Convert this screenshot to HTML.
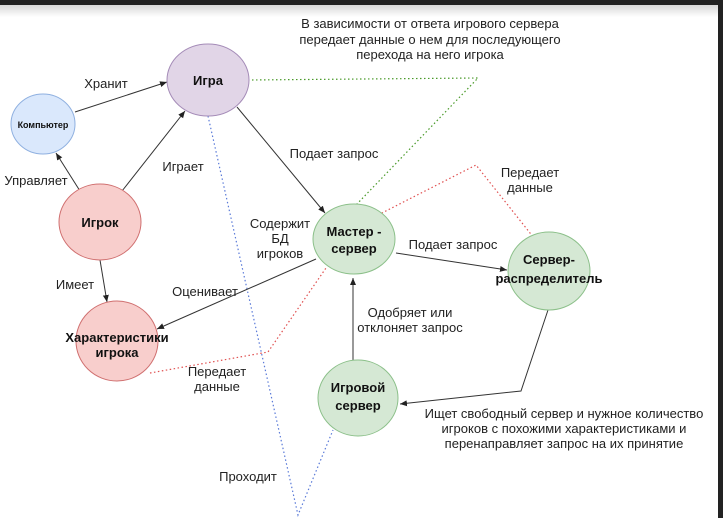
<!DOCTYPE html>
<html><head><meta charset="utf-8"><style>
body{margin:0;width:723px;height:518px;overflow:hidden;background:#fff;font-family:"Liberation Sans","Noto Sans CJK SC",sans-serif}
svg{display:block}
text{font-family:"Liberation Sans","Noto Sans CJK SC",sans-serif;font-size:13px;fill:#222}
.b{font-weight:bold;fill:#111;font-size:13px}
</style></head><body>
<svg width="723" height="518">
<defs>
<linearGradient id="g" x1="0" y1="0" x2="0" y2="1"><stop offset="0" stop-color="#d8d8d8"/><stop offset="1" stop-color="#fff"/></linearGradient>
<marker id="a" markerWidth="8" markerHeight="8" refX="7" refY="4" orient="auto" markerUnits="userSpaceOnUse"><path d="M0,1 L7,4 L0,7 Z" fill="#222"/></marker>
</defs>
<rect x="0" y="5" width="723" height="12" fill="url(#g)"/>
<rect x="0" y="0" width="723" height="5" fill="#222"/>
<rect x="718" y="0" width="5" height="518" fill="#222"/>

<g fill="none" stroke-width="1.2" stroke-dasharray="1.5 2.5">
<polyline points="248,80 478,78 356,205" stroke="#4a9a2a"/>
<polyline points="378,215 476,165 534,238" stroke="#e05050"/>
<polyline points="150,373 268,352 326,268" stroke="#e05050"/>
<polyline points="208,116 298,515 333,430" stroke="#5a7ad8"/>
</g>

<g stroke="#333" stroke-width="1" fill="none" marker-end="url(#a)">
<line x1="75" y1="112" x2="167" y2="82"/>
<line x1="80" y1="191" x2="56" y2="153"/>
<line x1="122" y1="191" x2="185" y2="111"/>
<line x1="100" y1="260" x2="107" y2="302"/>
<line x1="237" y1="107" x2="325" y2="213"/>
<line x1="316" y1="259" x2="157" y2="329"/>
<line x1="396" y1="253" x2="507" y2="270"/>
<polyline points="548,310 521,391 400,404"/>
<line x1="353" y1="362" x2="353" y2="278"/>
</g>

<ellipse cx="43" cy="124" rx="32" ry="30" fill="#dae8fc" stroke="#8fb0e0"/>
<text x="43" y="128" text-anchor="middle" class="b" style="font-size:9px">Компьютер</text>
<ellipse cx="208" cy="80" rx="41" ry="36" fill="#e1d5e7" stroke="#a58cb8"/>
<text x="208" y="85" text-anchor="middle" class="b">Игра</text>
<ellipse cx="100" cy="222" rx="41" ry="38" fill="#f8cecc" stroke="#d07070"/>
<text x="100" y="227" text-anchor="middle" class="b">Игрок</text>
<ellipse cx="117" cy="341" rx="41" ry="40" fill="#f8cecc" stroke="#d07070"/>
<text x="117" y="342" text-anchor="middle" class="b">Характеристики</text>
<text x="117" y="357" text-anchor="middle" class="b">игрока</text>
<ellipse cx="354" cy="239" rx="41" ry="35" fill="#d5e8d4" stroke="#8cc08a"/>
<text x="354" y="236" text-anchor="middle" class="b">Мастер -</text>
<text x="354" y="253" text-anchor="middle" class="b">сервер</text>
<ellipse cx="549" cy="271" rx="41" ry="39" fill="#d5e8d4" stroke="#8cc08a"/>
<text x="549" y="264" text-anchor="middle" class="b">Сервер-</text>
<text x="549" y="283" text-anchor="middle" class="b">распределитель</text>
<ellipse cx="358" cy="398" rx="40" ry="38" fill="#d5e8d4" stroke="#8cc08a"/>
<text x="358" y="392" text-anchor="middle" class="b">Игровой</text>
<text x="358" y="410" text-anchor="middle" class="b">сервер</text>

<g>
<text x="106" y="88" text-anchor="middle">Хранит</text>
<text x="36" y="185" text-anchor="middle">Управляет</text>
<text x="183" y="171" text-anchor="middle">Играет</text>
<text x="75" y="289" text-anchor="middle">Имеет</text>
<text x="334" y="158" text-anchor="middle">Подает запрос</text>
<text x="280" y="228" text-anchor="middle">Содержит</text>
<text x="280" y="243" text-anchor="middle">БД</text>
<text x="280" y="258" text-anchor="middle">игроков</text>
<text x="205" y="296" text-anchor="middle">Оценивает</text>
<text x="453" y="249" text-anchor="middle">Подает запрос</text>
<text x="530" y="177" text-anchor="middle">Передает</text>
<text x="530" y="192" text-anchor="middle">данные</text>
<text x="410" y="317" text-anchor="middle">Одобряет или</text>
<text x="410" y="332" text-anchor="middle">отклоняет запрос</text>
<text x="217" y="376" text-anchor="middle">Передает</text>
<text x="217" y="391" text-anchor="middle">данные</text>
<text x="564" y="418" text-anchor="middle">Ищет свободный сервер и нужное количество</text>
<text x="564" y="433" text-anchor="middle">игроков с похожими характеристиками и</text>
<text x="564" y="448" text-anchor="middle">перенаправляет запрос на их принятие</text>
<text x="248" y="481" text-anchor="middle">Проходит</text>
<text x="430" y="28" text-anchor="middle">В зависимости от ответа игрового сервера</text>
<text x="430" y="44" text-anchor="middle">передает данные о нем для последующего</text>
<text x="430" y="59" text-anchor="middle">перехода на него игрока</text>
</g>
</svg>
</body></html>
